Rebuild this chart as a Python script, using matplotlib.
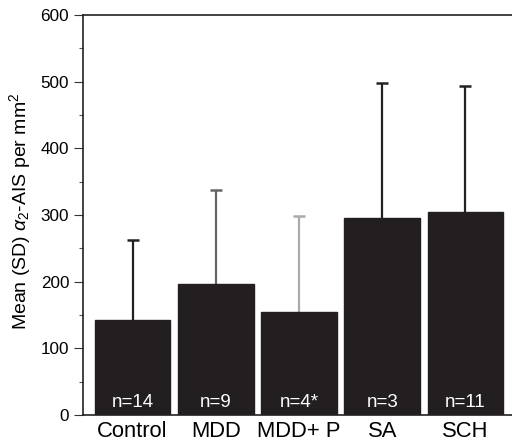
import matplotlib
matplotlib.use("Agg")
import matplotlib.pyplot as plt
from matplotlib.ticker import MultipleLocator

plt.rcParams['font.family'] = ['Liberation Sans', 'DejaVu Sans']
plt.rcParams['mathtext.fontset'] = 'custom'
plt.rcParams['mathtext.rm'] = 'Liberation Sans'
plt.rcParams['mathtext.it'] = 'Liberation Sans:italic'

categories = ["Control", "MDD", "MDD+ P", "SA", "SCH"]
means = [143, 197, 154, 296, 304]
sd_upper = [262, 338, 299, 498, 493]
n_labels = ["n=14", "n=9", "n=4*", "n=3", "n=11"]
err_colors = ["#222222", "#666666", "#aaaaaa", "#222222", "#222222"]

bar_color = "#231f20"

fig = plt.figure(figsize=(5.12, 4.42), dpi=100)
ax = fig.add_axes([82.7 / 512, 27 / 442, 1 - 82.7 / 512, 400 / 442])

x = list(range(len(categories)))
ax.bar(x, means, width=0.91, color=bar_color, edgecolor=bar_color, zorder=2)
for xi, m, top, c in zip(x, means, sd_upper, err_colors):
    eb = ax.errorbar([xi], [m], yerr=[[0], [top - m]], fmt='none', ecolor=c,
                     elinewidth=1.6, capsize=4.3, capthick=1.8, zorder=1)
    caps = eb[1]
    if len(caps) > 1:
        caps[0].set_visible(False)

for xi, lab in zip(x, n_labels):
    ax.text(xi, 12, lab, color='white', ha='center', va='baseline', fontsize=13.5, zorder=3)

ax.set_xlim(-0.6, 4.56)
ax.set_ylim(0, 600)
ax.yaxis.set_major_locator(MultipleLocator(100))
ax.yaxis.set_minor_locator(MultipleLocator(50))
ax.tick_params(axis='y', which='major', direction='out', length=6.7, width=0.8,
               color='#333333', labelsize=12.3, pad=3)
ax.tick_params(axis='y', which='minor', direction='out', length=2.9, width=0.8,
               color='#555555')
ax.set_xticks(x)
ax.set_xticklabels(categories, fontsize=15.8)
ax.tick_params(axis='x', length=0, pad=4)

for s in ['left', 'top', 'bottom']:
    ax.spines[s].set_linewidth(1.2)
    ax.spines[s].set_color('#222222')
ax.spines['right'].set_visible(False)

ax.set_ylabel(r'Mean (SD) $\alpha_2$-AIS per mm$^2$', fontsize=14, va='center')
ax.yaxis.set_label_coords(-0.145, 0.51)

fig.savefig("out.png", dpi=100)
